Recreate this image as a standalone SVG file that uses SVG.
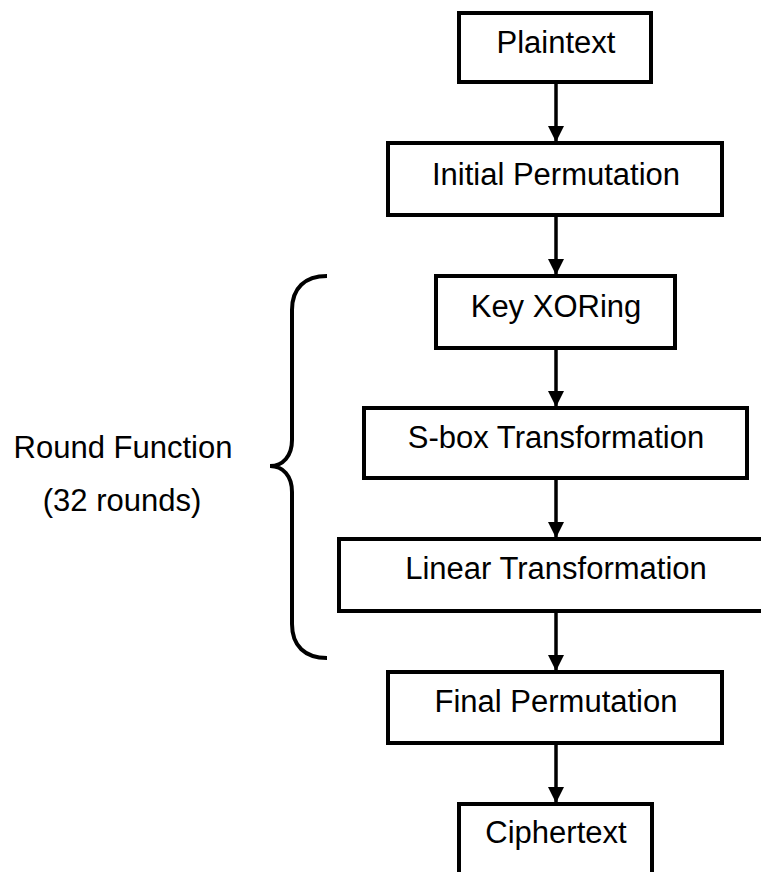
<svg xmlns="http://www.w3.org/2000/svg" width="761" height="872" viewBox="0 0 761 872">
  <style>
    .box { fill: #ffffff; stroke: #000000; stroke-width: 4; }
    .lbl { font-family: "Liberation Sans", Arial, Helvetica, sans-serif; font-size: 31px; fill: #000000; text-anchor: middle; }
    .edge { stroke: #000000; stroke-width: 3.5; fill: none; }
    .brace { stroke: #000000; stroke-width: 4; fill: none; }
  </style>
  <defs>
    <marker id="head" viewBox="0 0 16 16" refX="16" refY="8" markerWidth="16" markerHeight="16" markerUnits="userSpaceOnUse" orient="auto">
      <path d="M0,0 L16,8 L0,16 Z" fill="#000000"/>
    </marker>
  </defs>
  <rect width="761" height="872" fill="#ffffff"/>

  <!-- connectors -->
  <g id="connectors">
    <line class="edge" x1="556" y1="82" x2="556" y2="142" marker-end="url(#head)"/>
    <line class="edge" x1="556" y1="215" x2="556" y2="275" marker-end="url(#head)"/>
    <line class="edge" x1="556" y1="348" x2="556" y2="407" marker-end="url(#head)"/>
    <line class="edge" x1="556" y1="478" x2="556" y2="538" marker-end="url(#head)"/>
    <line class="edge" x1="556" y1="611" x2="556" y2="671" marker-end="url(#head)"/>
    <line class="edge" x1="556" y1="743" x2="556" y2="803" marker-end="url(#head)"/>
  </g>

  <g id="plaintext">
    <rect class="box" x="459" y="13" width="192" height="69"/>
    <text class="lbl" x="556" y="53">Plaintext</text>
  </g>
  <g id="initial-permutation">
    <rect class="box" x="388" y="143" width="334" height="72"/>
    <text class="lbl" x="556" y="185">Initial Permutation</text>
  </g>
  <g id="key-xoring">
    <rect class="box" x="436" y="276" width="239" height="72"/>
    <text class="lbl" x="556" y="317">Key XORing</text>
  </g>
  <g id="sbox-transformation">
    <rect class="box" x="364" y="408" width="383" height="70"/>
    <text class="lbl" x="556" y="448">S-box Transformation</text>
  </g>
  <g id="linear-transformation">
    <rect class="box" x="339" y="539" width="433" height="72"/>
    <text class="lbl" x="556" y="579">Linear Transformation</text>
  </g>
  <g id="final-permutation">
    <rect class="box" x="388" y="672" width="334" height="71"/>
    <text class="lbl" x="556" y="712">Final Permutation</text>
  </g>
  <g id="ciphertext">
    <rect class="box" x="459" y="804" width="193" height="74"/>
    <text class="lbl" x="556" y="843">Ciphertext</text>
  </g>

  <!-- curly brace grouping the round steps -->
  <g id="round-function">
    <path class="brace" d="M327,276 C305,276 292,288 292,310 L292,440 C292,456 283,466 270,466 C283,466 292,476 292,492 L292,624 C292,646 305,658 327,658"/>
    <text class="lbl" x="123" y="458">Round Function</text>
    <text class="lbl" x="122" y="511">(32 rounds)</text>
  </g>
</svg>
